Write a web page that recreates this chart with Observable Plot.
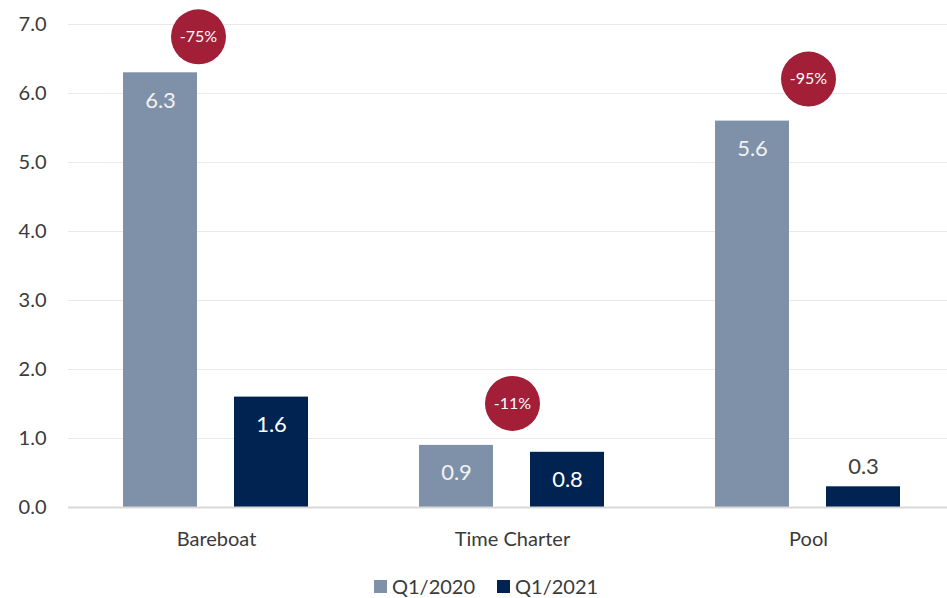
<!DOCTYPE html>
<html>
<head>
<meta charset="utf-8">
<script src="https://cdn.jsdelivr.net/npm/d3@7"></script>
<script src="https://cdn.jsdelivr.net/npm/@observablehq/plot@0.6"></script>
<style>
  html, body { margin: 0; padding: 0; background: #fff; overflow: hidden; }
  body { font-family: Lato, "Open Sans", sans-serif; width: 947px; height: 598px; }
  #legend { display: flex; align-items: center; height: 30px; margin-top: 9px; margin-left: 374px; font-size: 20px; color: #3a3a3a; }
  .item { display: flex; align-items: center; margin-right: 22px; }
  .sw { width: 13px; height: 13px; margin-right: 5px; }
</style>
</head>
<body>
<div id="chart"></div>
<div id="legend"></div>
<script>
const categories = ["Bareboat", "Time Charter", "Pool"];
const seriesNames = ["Q1/2020", "Q1/2021"];
const q1_2020 = [6.3, 0.9, 5.6];
const q1_2021 = [1.6, 0.8, 0.3];
const changeLabels = ["-75%", "-11%", "-95%"];
const yTicks = [0, 1, 2, 3, 4, 5, 6, 7];
const colors = ["#7f90a9", "#002352"];

const rows = [];
categories.forEach((c, i) => {
  rows.push({category: c, series: seriesNames[0], value: q1_2020[i]});
  rows.push({category: c, series: seriesNames[1], value: q1_2021[i]});
});
const badges = categories.map((c, i) => ({
  category: c, label: changeLabels[i], top: Math.max(q1_2020[i], q1_2021[i])
}));

const font = "Lato, 'Open Sans', sans-serif";
const badgeMarks = (data, dx, dy) => [
  Plot.dot(data, {fx: "category", y: "top", r: 27.5, fill: "#a31e37", stroke: "none", dx, dy}),
  Plot.text(data, {fx: "category", y: "top", text: "label", fill: "#ffffff", fontSize: 16, dx, dy})
];

const chart = Plot.plot({
  width: 947,
  height: 562,
  marginLeft: 68,
  marginRight: -9,
  marginTop: 24,
  marginBottom: 55,
  style: {fontFamily: font, fontSize: "20px", color: "#3a3a3a", background: "#fff", overflow: "visible"},
  fx: {domain: categories, padding: 0, axis: "bottom", tickSize: 0, tickPadding: 24, label: null},
  x: {domain: seriesNames, axis: null, paddingInner: 0.33, paddingOuter: 0.49},
  y: {domain: [0, 7], ticks: yTicks, tickFormat: d3.format(".1f"), tickSize: 0, tickPadding: 22, label: null, grid: false},
  color: {domain: seriesNames, range: colors},
  marks: [
    Plot.ruleY(yTicks.filter(d => d > 0), {stroke: "#e9e9e9", strokeWidth: 1}),
    Plot.barY(rows, {fx: "category", x: "series", y: "value", fill: "series"}),
    Plot.ruleY([0], {stroke: "#d9d9d9", strokeWidth: 2}),
    Plot.text(rows.filter(d => d.value >= 0.5), {
      fx: "category", x: "series", y: "value", text: d => d.value.toFixed(1),
      fill: d => d.series === seriesNames[0] ? "#f2f2f2" : "#ffffff", dy: 28, fontSize: 22
    }),
    Plot.text(rows.filter(d => d.value < 0.5), {
      fx: "category", x: "series", y: "value", text: d => d.value.toFixed(1),
      fill: "#404040", dy: -20, fontSize: 22
    }),
    ...badgeMarks(badges.filter(d => d.category === "Bareboat"), -18, -36),
    ...badgeMarks(badges.filter(d => d.category !== "Bareboat"), 0, -42)
  ]
});
document.getElementById("chart").appendChild(chart);

const legend = document.getElementById("legend");
seriesNames.forEach((s, i) => {
  const item = document.createElement("div");
  item.className = "item";
  const sw = document.createElement("div");
  sw.className = "sw";
  sw.style.background = colors[i];
  const t = document.createElement("span");
  t.textContent = s;
  item.appendChild(sw);
  item.appendChild(t);
  legend.appendChild(item);
});
</script>
</body>
</html>
